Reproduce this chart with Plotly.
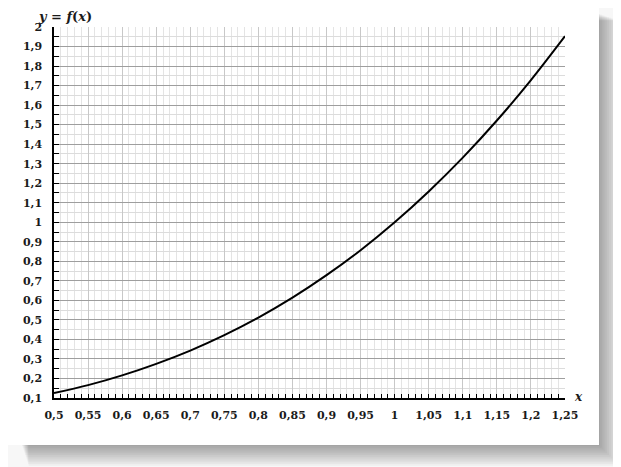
import plotly.graph_objects as go

# curve points
x_vals = [0.5, 0.55, 0.6, 0.65, 0.7, 0.75, 0.8, 0.85, 0.9, 0.95, 1.0,
          1.05, 1.1, 1.15, 1.2, 1.25]
y_vals = [0.125, 0.166, 0.216, 0.275, 0.343, 0.422, 0.512, 0.614, 0.729,
          0.857, 1.0, 1.158, 1.331, 1.521, 1.728, 1.953]

x_range = [0.5, 1.25]
y_range = [0.1, 2.0]

OFF = 8  # page body margin, the figure starts 8px in
W, H = 621 - OFF, 467 - OFF
L, R, T, B = 54 - OFF, 565 - OFF, 27 - OFF, 398 - OFF  # plot area in figure px


def px(x):
    return (x - OFF - L) / (R - L)


def py(y):
    return (B - (y - OFF)) / (B - T)


TXT = dict(family="DejaVu Serif", size=11, color="#1a1a1a", weight="bold")

fig = go.Figure()
fig.add_trace(go.Scatter(
    x=x_vals, y=y_vals, mode="lines", line_shape="spline",
    line=dict(color="black", width=2), hoverinfo="skip", showlegend=False,
))

# soft drop shadow right and below the white card (window pixels)
shapes = []
for i in range(12):
    shapes.append(dict(
        type="rect", xref="paper", yref="paper", layer="below",
        x0=px(22 + i * 0.6), x1=px(600 + i * 1.8),
        y0=py(446 + i * 1.8), y1=py(14 + i * 0.6),
        fillcolor="rgba(0,0,0,0.032)", line=dict(width=0),
    ))
shapes.append(dict(
    type="rect", xref="paper", yref="paper", layer="below",
    x0=px(OFF), x1=px(599), y0=py(445), y1=py(OFF),
    fillcolor="white", line=dict(width=0),
))

fig.update_layout(
    width=W, height=H,
    margin=dict(l=L, r=W - R, t=T, b=H - B, pad=0),
    paper_bgcolor="#f7f7f7",
    plot_bgcolor="rgba(0,0,0,0)",
    separators=", ",
    shapes=shapes,
    xaxis=dict(
        range=x_range, dtick=0.05, tick0=0.5,
        showgrid=True, gridcolor="#c8c8c8", gridwidth=1,
        ticks="inside", ticklen=4, tickcolor="black",
        showline=True, linecolor="black", linewidth=1.5,
        zeroline=False, tickfont=TXT, ticklabelstandoff=6,
        minor=dict(dtick=0.01, tick0=0.5, showgrid=True, gridcolor="#e4e4e4",
                   gridwidth=1, ticks="inside", ticklen=4, tickcolor="black"),
    ),
    yaxis=dict(
        range=y_range, dtick=0.1, tick0=0.1,
        showgrid=True, gridcolor="#9e9e9e", gridwidth=1,
        ticks="inside", ticklen=5, tickcolor="black",
        showline=True, linecolor="black", linewidth=1.5,
        zeroline=False, tickfont=TXT, ticklabelstandoff=8,
        minor=dict(dtick=0.05, tick0=0.1, showgrid=True, gridcolor="#dcdcdc",
                   gridwidth=1, ticks="inside", ticklen=5, tickcolor="black"),
    ),
    annotations=[
        dict(text="<i>y</i> = <i>f</i>(<i>x</i>)", xref="paper", yref="paper",
             x=px(36), y=py(16), xanchor="left", yanchor="middle",
             showarrow=False, font=dict(TXT, size=13)),
        dict(text="<i>x</i>", xref="paper", yref="paper",
             x=px(572), y=py(397), xanchor="left", yanchor="middle",
             showarrow=False, font=dict(TXT, size=12)),
    ],
)

fig.write_html("out.html")
